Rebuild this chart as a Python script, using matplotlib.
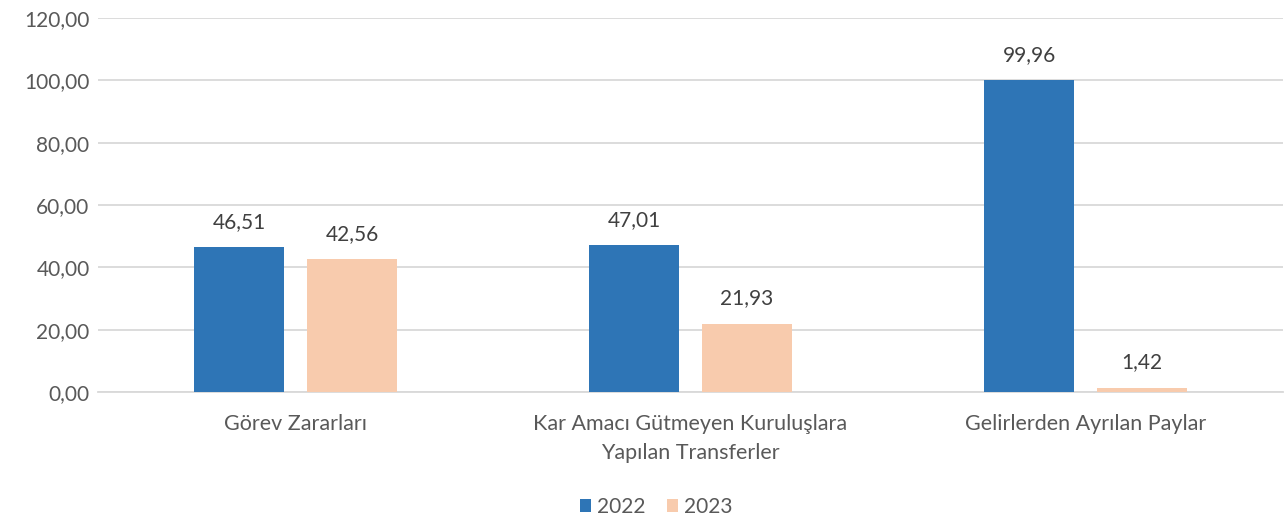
import matplotlib
matplotlib.use("Agg")
import matplotlib.pyplot as plt
import numpy as np

categories = ["Görev Zararları", "Kar Amacı Gütmeyen Kuruluşlara\nYapılan Transferler", "Gelirlerden Ayrılan Paylar"]
series_names = ["2022", "2023"]
values_2022 = [46.51, 47.01, 99.96]
values_2023 = [42.56, 21.93, 1.42]
yticks = [0, 20, 40, 60, 80, 100, 120]

plt.rcParams['font.family'] = ['Lato', 'DejaVu Sans']

fig = plt.figure(figsize=(12.87, 5.18), dpi=100)
ax = fig.add_axes([0.0761, 0.2432, 0.9209, 0.7221])

x = np.arange(len(categories))
w = 0.228
off = 0.143
c1 = "#2E75B6"
c2 = "#F8CBAD"
b1 = ax.bar(x - off, values_2022, w, color=c1, label=series_names[0], zorder=3)
b2 = ax.bar(x + off, values_2023, w, color=c2, label=series_names[1], zorder=3)

def fmt(v):
    return f"{v:.2f}".replace(".", ",")

for bars in (b1, b2):
    for r in bars:
        v = r.get_height()
        ax.annotate(fmt(v), (r.get_x() + r.get_width() / 2, v), xytext=(0, 11),
                    textcoords="offset points", ha="center", va="bottom",
                    fontsize=15, color="#404040")

ax.set_xlim(-0.5, 2.5)
ax.set_ylim(0, 120)
ax.set_yticks(yticks)
ax.set_yticklabels([fmt(t) for t in yticks], fontsize=15, color="#595959")
ax.set_xticks(x)
ax.set_xticklabels(categories, fontsize=15.5, color="#595959", linespacing=1.55)
ax.tick_params(axis="y", length=0, pad=6)
ax.tick_params(axis="x", length=0, pad=16)
ax.yaxis.grid(True, color="#D9D9D9", linewidth=1.3, zorder=0)
for s in ["top", "right", "left"]:
    ax.spines[s].set_visible(False)
ax.spines["bottom"].set_color("#D9D9D9")
ax.spines["bottom"].set_linewidth(1.3)

leg = fig.legend(handles=[b1, b2], labels=series_names, loc="center", bbox_to_anchor=(0.510, 0.022),
                 ncol=2, frameon=False, fontsize=15, handlelength=0.55, handleheight=0.55,
                 handletextpad=0.3, columnspacing=1.0)
for t in leg.get_texts():
    t.set_color("#595959")

fig.savefig("out.png", dpi=100)
